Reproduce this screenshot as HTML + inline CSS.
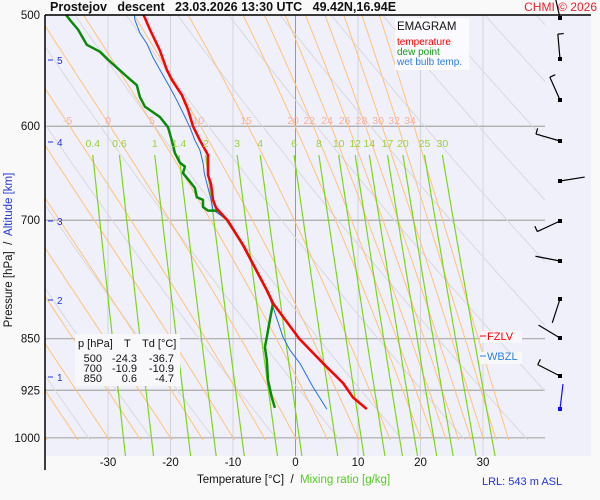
<!DOCTYPE html>
<html><head><meta charset="utf-8"><style>
body{margin:0;background:#f9f9f9;font-family:"Liberation Sans",sans-serif;}
svg{display:block}
text{font-family:"Liberation Sans",sans-serif;white-space:pre}
</style></head><body>
<svg id="chart" width="600" height="500" viewBox="0 0 600 500" xmlns="http://www.w3.org/2000/svg" xml:space="preserve">
<rect x="0" y="0" width="600" height="500" fill="#f9f9f9"/>
<rect x="45" y="15" width="546" height="441" fill="#f0f0fb"/>
<defs><clipPath id="clip"><rect x="45" y="15" width="500" height="425"/></clipPath>
<clipPath id="clip2"><rect x="45" y="15" width="500" height="441"/></clipPath></defs>
<g id="grid"></g><g id="adiab" clip-path="url(#clip)"></g><g id="mix" clip-path="url(#clip2)"></g><g id="profiles"></g><g id="labels"></g><g id="winds"></g>
<line x1="45" y1="15" x2="45" y2="470" stroke="#000" stroke-width="1.5"/>
<line x1="45" y1="15" x2="591" y2="15" stroke="#000" stroke-width="1.5"/>
<text x="50" y="11" font-size="12.5" font-weight="bold" fill="#111">Prostejov   descent   23.03.2026 13:30 UTC   49.42N,16.94E</text>
<text x="597" y="11" font-size="12" fill="#e8202a" text-anchor="end">CHMI © 2026</text>
<g>
<rect x="395" y="18" width="74" height="52" fill="#fafaff"/>
<text x="397" y="30" font-size="11.5" fill="#111">EMAGRAM</text>
<text x="397" y="45" font-size="10" fill="#ff0000">temperature</text>
<text x="397" y="55" font-size="10" fill="#169a16">dew point</text>
<text x="397" y="65" font-size="10" fill="#2a7de8">wet bulb temp.</text>
</g>
<g font-size="11" fill="#111">
<rect x="75" y="334" width="105" height="52" fill="#f8f8fb"/>
<text x="78" y="347">p [hPa]</text><text x="124" y="347">T</text><text x="142" y="347">Td [°C]</text>
<text x="102" y="362" text-anchor="end">500</text><text x="137" y="362" text-anchor="end">-24.3</text><text x="174" y="362" text-anchor="end">-36.7</text>
<text x="102" y="372" text-anchor="end">700</text><text x="137" y="372" text-anchor="end">-10.9</text><text x="174" y="372" text-anchor="end">-10.9</text>
<text x="102" y="382" text-anchor="end">850</text><text x="137" y="382" text-anchor="end">0.6</text><text x="174" y="382" text-anchor="end">-4.7</text>
</g>
<g><rect x="480" y="331" width="42" height="12" fill="#f8f8fb"/><line x1="480" y1="336" x2="486" y2="336" stroke="#f00"/><text x="487" y="340" font-size="11" fill="#f00">FZLV</text></g>
<g><rect x="480" y="352" width="42" height="12" fill="#f8f8fb"/><line x1="480" y1="356" x2="486" y2="356" stroke="#2a7de8"/><text x="487" y="360" font-size="11" fill="#2a7de8">WBZL</text></g>
<text transform="translate(12,250) rotate(-90)" font-size="11.5" text-anchor="middle"><tspan fill="#111">Pressure [hPa]  /  </tspan><tspan fill="#2233dd">Altitude [km]</tspan></text>
<text x="197" y="483" font-size="11.5"><tspan fill="#111">Temperature [°C]  /  </tspan><tspan fill="#55cc22">Mixing ratio [g/kg]</tspan></text>
<text x="482" y="485" font-size="11" fill="#2233dd">LRL: 543 m ASL</text>
</svg>
<script>
const tempTicks=[-30,-20,-10,0,10,20,30];
const pressTicks=[500,600,700,850,925,1000];
const altKm=[5,4,3,2,1];
const altY=[60,142,221,300,377];
const thetaW=[-40,-35,-30,-25,-20,-15,-10,-5,0,5,10,15,20,22,24,26,28,30,32,34];
const thetaWLabels=[-5,0,5,10,15,20,22,24,26,28,30,32,34];
const dryTheta=[230,240,250,260,270,280,290,300,310,320,330,340,350,360,370,380,390,400,410,420,430];
const mixRatios=[0.4,0.6,1,1.4,2,3,4,6,8,10,12,14,17,20,25,30];
const tPres=[500,512,530,547,556,570,584,600,614,629,650,660,677,686,700,729,785,802,820,850,885,914,936,954];
const tVals=[-24.3,-23.3,-21.7,-20.6,-19.8,-18.2,-17.2,-16.4,-15.3,-14.0,-14.0,-13.5,-13.2,-12.7,-10.9,-8.4,-4.6,-3.6,-2.0,0.6,4.4,7.6,9.2,11.4];
const dPres=[500,504,512,525,531,538,545,553,561,572,581,591,601,614,627,637,641,648,657,664,674,677,685,689,689,700,729,785,802,824,848,862,880,910,936,952];
const dVals=[-36.7,-36.1,-34.8,-33.4,-31.3,-30.0,-28.6,-27.0,-25.4,-24.9,-24.1,-21.7,-20.4,-19.8,-19.3,-18.5,-17.7,-18.0,-16.9,-16.1,-15.8,-14.8,-14.8,-14.0,-12.4,-10.9,-8.4,-4.6,-3.6,-4.1,-4.6,-4.9,-4.6,-4.4,-3.8,-3.3];
const wPres=[500,504,515,524,536,547,563,575,587,601,614,624,637,648,664,677,688,700,729,785,807,848,866,885,920,954];
const wVals=[-25.8,-25.7,-24.9,-23.8,-22.8,-21.7,-20.1,-19.0,-18.0,-16.9,-16.1,-15.3,-14.8,-14.6,-14.0,-13.5,-13.2,-10.9,-8.4,-4.6,-3.6,-2.0,-0.9,0.7,2.8,5.0];
const windY=[18,59,100,141,181,221,261,299,338,376];
const windDir=[347,355,336,286,81,245,281,198,301,297];
const windBarb=[0,1,1,1,0,1,0,0,0,1];

const NS='http://www.w3.org/2000/svg';
const X=t=>295.5+t*6.25;
const Y=p=>15+610*Math.log(p/500);
function el(tag,attrs,parent){const e=document.createElementNS(NS,tag);for(const k in attrs)e.setAttribute(k,attrs[k]);parent.appendChild(e);return e;}
const grid=document.getElementById('grid'),adiab=document.getElementById('adiab'),mix=document.getElementById('mix'),prof=document.getElementById('profiles'),lab=document.getElementById('labels'),winds=document.getElementById('winds');

tempTicks.forEach(t=>{
 const l=el('line',{x1:X(t),x2:X(t),y1:15,y2:456,stroke:t===0?'#999':'#d4d4d8','stroke-width':1},grid);
 
 
 const tx=el('text',{x:X(t),y:466,'font-size':11.5,'text-anchor':'middle',fill:'#111'},lab);
 tx.textContent=t;
 
 
});
pressTicks.forEach(p=>{
 const l=el('line',{x1:45,x2:545,y1:Y(p),y2:Y(p),stroke:'#a8a8a8','stroke-width':1.2},grid);
 
 
 const tx=el('text',{x:40,y:Y(p)+4,'font-size':11.5,'text-anchor':'end',fill:'#111'},lab);
 tx.textContent=p;
 
 
});
altKm.forEach((k,i)=>{
 const l=el('line',{x1:48,x2:53,y1:altY[i],y2:altY[i],stroke:'#2233dd'},lab);
 
 
 const tx=el('text',{x:57,y:altY[i]+4,'font-size':10,fill:'#2233dd'},lab);
 tx.textContent=k;
 
 
});
dryTheta.forEach(th=>{
 let pts=[];for(let p=300;p<=1050;p+=10){pts.push(X(th*Math.pow(p/1000,0.286)-273.15).toFixed(1)+','+Y(p).toFixed(1));}
 const l=el('polyline',{points:pts.join(' '),fill:'none',stroke:'#d8d8dc','stroke-width':1},adiab);
 
 
});
function es(T){return 6.112*Math.exp(17.67*T/(T+243.5));}
function moist(tw){
 const Rd=287,cp=1005,L=2.5e6,eps=0.622;let T=tw+273.15,p=1000;
 const step=(dir,pend)=>{let TT=T,pp=p;const arr=[];
  while(dir<0?pp>pend:pp<pend){arr.push([pp,TT]);const e=es(TT-273.15);const rs=eps*e/(pp-e);
   const dTdp=(Rd*TT+L*rs)/(pp*(cp+L*L*rs*eps/(Rd*TT*TT)));const dp=dir*2;TT+=dTdp*dp;pp+=dp;}
  arr.push([pp,TT]);return arr;};
 const up=step(-1,480).reverse(),down=step(1,1040);
 return up.concat(down);
}
thetaW.forEach(tw=>{
 const pts=moist(tw).map(a=>X(a[1]-273.15).toFixed(1)+','+Y(a[0]).toFixed(1));
 const l=el('polyline',{points:pts.join(' '),fill:'none',stroke:'#ffc27a','stroke-width':1},adiab);
 
 
});
thetaWLabels.forEach(tw=>{
 const m=moist(tw);let best=m[0];m.forEach(a=>{if(Math.abs(a[0]-600)<Math.abs(best[0]-600))best=a;});
 const tx=el('text',{x:X(best[1]-273.15)+(tw<=20?-2:-4),y:124,'font-size':10.5,'text-anchor':'middle',fill:'#f7b0a0'},lab);
 tx.textContent=tw;
 
 
});
function tdFrom(w,p){const e=w*p/(622+w);const l=Math.log(e/6.112);return 243.5*l/(17.67-l);}
mixRatios.forEach(w=>{
 const pts=[];for(let p=629;p<=1035;p+=5)pts.push(X(tdFrom(w,p)).toFixed(1)+','+Y(p).toFixed(1));
 const l=el('polyline',{points:pts.join(' '),fill:'none',stroke:'#7fd41a','stroke-width':1.2},mix);
 
 
 const tx=el('text',{x:X(tdFrom(w,629)),y:147,'font-size':10.5,'text-anchor':'middle',fill:'#99d13a'},lab);
 tx.textContent=w;
 
 
});
function series(P,V,color,w,name){
 const pts=P.map((p,i)=>X(V[i]).toFixed(1)+','+Y(p).toFixed(1));
 const l=el('polyline',{points:pts.join(' '),fill:'none',stroke:color,'stroke-width':w,'stroke-linejoin':'round'},prof);
 
 
}
series(wPres,wVals,'#1f6fe8',1,'wet-bulb-line');
series(dPres,dVals,'#0a8a0a',2.5,'dew-point-line');
series(tPres,tVals,'#ff0000',2.5,'temperature-line');
windY.forEach((y,i)=>{
 const a=windDir[i]*Math.PI/180,len=25;
 const x2=560+len*Math.sin(a),y2=y-len*Math.cos(a);
 const g=el('g',{},winds);
 
 
 el('line',{x1:560,y1:y,x2:x2,y2:y2,stroke:'#000','stroke-width':1.2},g);
 if(windBarb[i]){const b=a+Math.PI/2;
  el('line',{x1:x2,y1:y2,x2:x2+6*Math.sin(b),y2:y2-6*Math.cos(b),stroke:'#000','stroke-width':1.2},g);}
 el('rect',{x:558,y:y-2,width:4,height:4,fill:'#000'},g);
});
const bw=el('g',{},winds);


el('line',{x1:560,y1:409,x2:563,y2:384,stroke:'#1010ff','stroke-width':1.2},bw);
el('rect',{x:558,y:407,width:4,height:4,fill:'#1010ff'},bw);
</script>
</body></html>
